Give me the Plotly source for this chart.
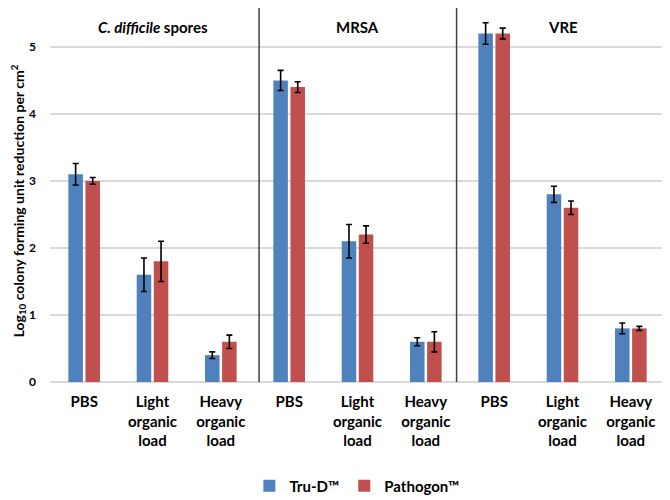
import plotly.graph_objects as go

categories = ["PBS", "Light<br>organic<br>load", "Heavy<br>organic<br>load"] * 3
groups = ["<i>C. difficile</i> spores", "MRSA", "VRE"]
trud_values = [3.1, 1.6, 0.4, 4.5, 2.1, 0.6, 5.2, 2.8, 0.8]
trud_errors = [0.16, 0.25, 0.05, 0.15, 0.25, 0.06, 0.16, 0.12, 0.08]
pathogon_values = [3.0, 1.8, 0.6, 4.4, 2.2, 0.6, 5.2, 2.6, 0.8]
pathogon_errors = [0.05, 0.3, 0.1, 0.08, 0.13, 0.15, 0.08, 0.1, 0.03]
y_ticks = [0, 1, 2, 3, 4, 5]

FONT = "Lato"
x_idx = list(range(len(categories)))

fig = go.Figure()
fig.add_trace(go.Bar(
    x=x_idx, y=trud_values, name="Tru-D™",
    marker=dict(color="#4F81BD", line=dict(width=0)),
    error_y=dict(type="data", array=trud_errors, color="black", thickness=1.6, width=3),
))
fig.add_trace(go.Bar(
    x=x_idx, y=pathogon_values, name="Pathogon™",
    marker=dict(color="#C0504D", line=dict(width=0)),
    error_y=dict(type="data", array=pathogon_errors, color="black", thickness=1.6, width=3),
))

for i, g in enumerate(groups):
    fig.add_annotation(x=3 * i + 1, y=5.3, xref="x", yref="y", text="<b>" + g + "</b>",
                       showarrow=False, font=dict(family=FONT, size=15, color="black"))

for sx in [2.56, 5.45]:
    fig.add_shape(type="line", xref="x", yref="paper", x0=sx, x1=sx, y0=0, y1=1.0,
                  line=dict(color="#404040", width=1.5))

# y-axis title as rotated annotation
fig.add_annotation(x=-32 / 615, y=0.483, xref="paper", yref="paper",
                   text="<b>Log<sub>10</sub> colony forming unit reduction per cm<sup>2</sup></b>",
                   textangle=-90, showarrow=False, xanchor="center", yanchor="middle",
                   font=dict(family=FONT, size=14, color="black"))

fig.update_layout(
    width=662, height=492,
    margin=dict(l=42, r=5, t=0, b=118, autoexpand=False),
    paper_bgcolor="white", plot_bgcolor="white",
    barmode="group", bargap=0.5, bargroupgap=0.15,
    showlegend=True,
    legend=dict(orientation="h", xref="paper", x=0.499, xanchor="center",
                yref="container", y=0.0285, yanchor="middle",
                font=dict(family=FONT, size=15, color="black", weight="bold"),
                itemwidth=30, traceorder="normal"),
    xaxis=dict(tickmode="array", tickvals=x_idx,
               ticktext=["<b>" + c.replace("<br>", "</b><br><b>") + "</b>" for c in categories],
               range=[-0.5, 8.5], showgrid=False, zeroline=False, showline=False, automargin=False,
               ticks="", ticklabelstandoff=9,
               tickfont=dict(family=FONT, size=15, color="black"), tickangle=0),
    yaxis=dict(range=[0, 5.58], tickvals=y_ticks, showgrid=True, gridcolor="#D9D9D9", gridwidth=1.5,
               zeroline=True, zerolinecolor="#D9D9D9", zerolinewidth=1.5, showline=False,
               automargin=False, ticks="", ticklabelstandoff=13,
               tickfont=dict(family=FONT, size=12, color="black", weight="bold")),
)

fig.write_html("out.html")
